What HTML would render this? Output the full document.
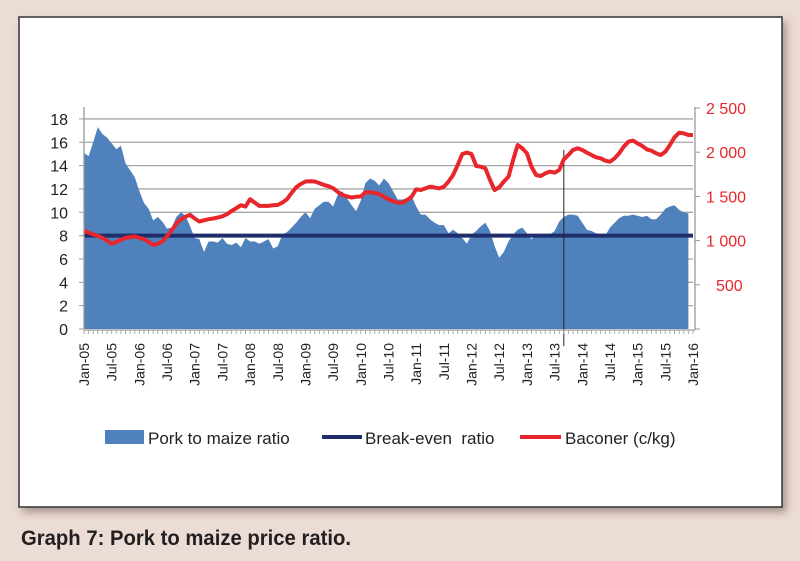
<!DOCTYPE html>
<html><head><meta charset="utf-8"><style>
html,body{margin:0;padding:0;background:#ecdcd6;}
svg{display:block;font-family:"Liberation Sans",sans-serif;}
</style></head><body>
<svg id="chart" width="800" height="561" viewBox="0 0 800 561">
<defs><filter id="sh" x="-5%" y="-5%" width="112%" height="115%"><feDropShadow dx="4" dy="5" stdDeviation="4" flood-color="#6a5550" flood-opacity="0.5"/></filter></defs>
<rect x="0" y="0" width="800" height="561" fill="#ecdcd6"/>
<rect x="19" y="17" width="763" height="490" fill="#ffffff" stroke="#333" stroke-width="1.5" filter="url(#sh)"/>
<g id="grid"></g>
<g id="area"></g>
<g id="lines"></g>
<g id="axes"></g>
<g>
  <rect x="105" y="430" width="39" height="14" fill="#4f81bd"/>
  <text x="148" y="444" font-size="17" fill="#222">Pork to maize ratio</text>
  <line x1="322" y1="437" x2="362" y2="437" stroke="#1f2d6b" stroke-width="4"/>
  <text x="365" y="444" font-size="17" fill="#222" xml:space="preserve">Break-even  ratio</text>
  <line x1="520" y1="437" x2="561" y2="437" stroke="#e8262b" stroke-width="4"/>
  <text x="565" y="444" font-size="17" fill="#222">Baconer (c/kg)</text>
</g>
<text x="21" y="545" font-size="21" font-weight="bold" fill="#231f20" textLength="330" lengthAdjust="spacingAndGlyphs">Graph 7: Pork to maize price ratio.</text>
</svg>
<script>
const porkRatio=[15.1,14.8,16,17.3,16.7,16.4,15.9,15.4,15.7,14.2,13.6,13.0,11.8,10.8,10.3,
9.3,9.6,9.2,8.6,8.7,9.6,10,9.7,8.8,7.8,7.7,6.6,7.5,7.5,7.4,7.8,7.3,7.2,7.4,7.0,7.8,7.5,7.5,7.3,7.5,7.7,6.9,7.1,8.1,8.3,8.7,9.1,9.6,10.0,9.5,10.3,10.6,10.9,10.9,10.5,11.5,11.8,11.2,10.6,10.1,11,12.5,12.9,12.7,12.3,12.9,12.5,11.8,
11.1,11.1,11.2,11.4,10.5,9.8,9.8,9.4,9.1,8.9,8.9,8.2,8.5,8.2,7.8,7.3,8.1,8.4,8.8,9.1,8.4,7.1,6.1,6.6,7.5,8.1,8.5,8.7,8.2,7.7,8.1,8.1,8.1,8.1,8.4,9.2,9.6,9.8,9.8,9.7,9.1,8.5,8.4,8.2,8.0,8.0,8.7,9.1,9.5,9.7,9.7,9.8,9.7,9.6,9.7,9.4,9.4,9.8,10.3,10.5,10.6,10.2,10.0,9.9];
const baconer=[1115,1090,1070,1054,1030,1000,964,985,1009,1030,1040,1047,1030,1017,985,949,965,990,1050,1115,1190,1242,1270,1291,1250,1216,1230,1242,1250,1261,1275,1299,1335,1367,1400,1385,1468,1430,1393,1393,1393,1400,1404,1430,1468,1540,1604,1640,1668,1672,1668,1650,1630,1615,1593,1550,1517,1500,1487,1495,1499,1545,1547,1540,1525,1495,1468,1445,1431,
1429,1459,1497,1580,1572,1591,1610,1602,1591,1610,1667,1742,1855,1980,1995,1980,1844,1836,1817,1686,1572,1602,1667,1723,1912,2081,2044,1987,1836,1742,1731,1761,1780,1768,1799,1919,1968,2025,2044,2025,1995,1968,1942,1931,1904,1893,1931,1987,2063,2119,2131,2100,2070,2032,2017,1987,1968,2006,2081,2168,2221,2213,2195,2195];
const breakEven=[8];
const leftTicks=[0,2,4,6,8,10,12,14,16,18];
const rightTicks=[500,1000,1500,2000,2500];
const rightTickLabels=["500","1 000","1 500","2 000","2 500"];
const markerMonth=[104];
const monthNames=["Jan","Jul"];
const startYear=2005, nMonths=133;

const NS="http://www.w3.org/2000/svg";
const X0=84,X1=693,Y0=329,YL=11.67,YR=0.0884;
const xS=m=>X0+(X1-X0)*m/(nMonths-1);
const yL=v=>Y0-v*YL;
const yR=v=>Y0-v*YR;
function mk(tag,attrs,parent){const e=document.createElementNS(NS,tag);for(const k in attrs)e.setAttribute(k,attrs[k]);parent.appendChild(e);return e;}
const grid=document.getElementById('grid'),area=document.getElementById('area'),lines=document.getElementById('lines'),axes=document.getElementById('axes');

leftTicks.forEach(v=>{
  if(v>0){const g=mk('line',{x1:X0,x2:X1,y1:yL(v),y2:yL(v),stroke:'#a6a6a6','stroke-width':1.3},grid);
  
  }
  const t=mk('line',{x1:X0-5,x2:X0,y1:yL(v),y2:yL(v),stroke:'#999'},axes);
  
  
  const l=mk('text',{x:68,y:yL(v)+6,'text-anchor':'end','font-size':16,fill:'#222'},axes);
  l.textContent=v;
  
  
});
let d='M'+xS(0)+','+Y0;
porkRatio.forEach((v,i)=>{d+=' L'+xS(i).toFixed(1)+','+yL(v).toFixed(1);});
d+=' L'+xS(porkRatio.length-1)+','+Y0+' Z';
const ap=mk('path',{d:d,fill:'#4f81bd'},area);



const be=mk('line',{x1:X0,x2:X1,y1:yL(breakEven[0]),y2:yL(breakEven[0]),stroke:'#1f2d6b','stroke-width':4},lines);



const mx=xS(markerMonth[0]);
const ml=mk('line',{x1:mx,x2:mx,y1:150,y2:346,stroke:'#222','stroke-width':1},lines);



const pts=baconer.map((v,i)=>xS(i).toFixed(1)+','+yR(v).toFixed(1)).join(' ');
const bl=mk('polyline',{points:pts,fill:'none',stroke:'#e8262b','stroke-width':4,'stroke-linejoin':'round'},lines);



const la=mk('line',{x1:X0,x2:X0,y1:107,y2:Y0,stroke:'#999','stroke-width':1.3},axes);


const ra=mk('line',{x1:695,x2:695,y1:107,y2:Y0+1,stroke:'#999','stroke-width':1.3},axes);


const xa=mk('line',{x1:X0,x2:695,y1:Y0+1,y2:Y0+1,stroke:'#999','stroke-width':1.3},axes);


[0].concat(rightTicks).forEach(v=>{
  const t=mk('line',{x1:695,x2:700,y1:yR(v),y2:yR(v),stroke:'#999'},axes);
  
  
});
rightTicks.forEach((v,i)=>{
  const l=mk('text',{x:i==0?716:706,y:yR(v)+6,'font-size':16,fill:'#e8262b'},axes);
  l.textContent=rightTickLabels[i];
  
  
});
for(let m=0;m<nMonths;m++){
  const x=xS(m);
  const t=mk('line',{x1:x,x2:x,y1:Y0+1,y2:Y0+5,stroke:'#aaa'},axes);
  
  
  if(m%6===0){
    const yr=startYear+Math.floor(m/12);
    const lab=monthNames[(m%12)/6]+'-'+String(yr%100).padStart(2,'0');
    const l=mk('text',{x:0,y:0,'font-size':14,fill:'#222','text-anchor':'end',transform:'translate('+(x+5)+',343) rotate(-90)'},axes);
    l.textContent=lab;
    
    
  }
}
</script>
</body></html>
